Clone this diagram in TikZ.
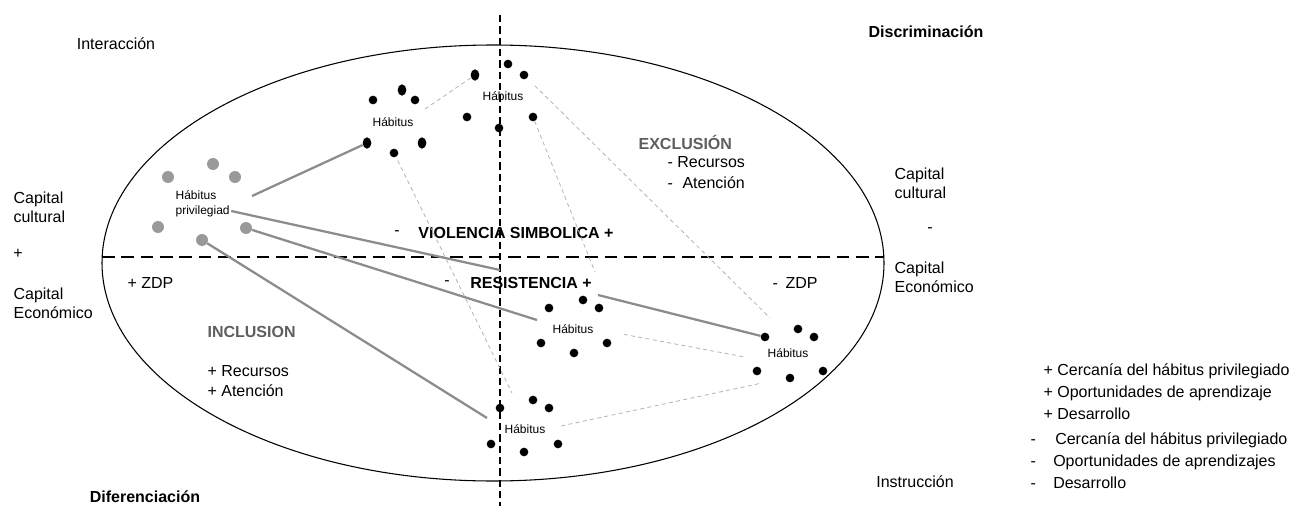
\documentclass[tikz,border=0pt]{standalone}
\usepackage{fontspec}
\setmainfont{Liberation Sans}
\usetikzlibrary{shapes.geometric,positioning}

\begin{document}
\begin{tikzpicture}
		[x=0.75pt,y=-0.75pt,
		 font=\fontsize{12}{14.4}\selectfont,
		 every node/.style={inner sep=1pt},
		 blackdot/.style={circle,fill=black,inner sep=0pt,minimum size=6.5pt},
		 talldot/.style={ellipse,fill=black,inner sep=0pt,minimum width=6.5pt,minimum height=8.5pt},
		 privdot/.style={circle,fill=black!40,inner sep=0pt,minimum size=9pt},
		 habit/.style={font=\fontsize{9}{10.5}\selectfont},
		 titlelabel/.style={font=\fontsize{12}{14.4}\selectfont\bfseries},
		 zonelabel/.style={font=\fontsize{12}{14.4}\selectfont\bfseries,text=black!63},
		 strongline/.style={draw=black!45,line width=1.7pt},
		 weakline/.style={draw=black!30,line width=0.6pt,dash pattern=on 3pt off 2.5pt},
		 axisline/.style={line width=2pt,dash pattern=on 9.5pt off 5pt}]

		\useasboundingbox (0,0) rectangle (1299,506);

		\draw[line width=0.8pt] (493,263) ellipse [x radius=293.25pt, y radius=163.5pt];
		\draw[axisline] (102,257) -- (884,257);
		\draw[line width=0.8pt,dash pattern=on 5.5pt off 3pt] (500,15) -- (500,506);

		\node (interaccion) at (116,44) {Interacción};
		\node[titlelabel] (discriminacion) at (926,32) {Discriminación};
		\node[titlelabel] (diferenciacion) at (145,497) {Diferenciación};
		\node (instruccion) at (915,482) {Instrucción};

		\node[anchor=west,align=left] (culturalL) at (12,207) {Capital\\cultural};
		\node (plusL) at (18,254) {+};
		\node[anchor=west,align=left] (economicoL) at (12,303) {Capital\\Económico};
		\node[anchor=west,align=left] (culturalR) at (893,183) {Capital\\cultural};
		\node (minusR) at (930,230) {-};
		\node[anchor=west,align=left] (economicoR) at (893,277) {Capital\\Económico};

		\node[anchor=west] (zdpPlus) at (126,283) {+ ZDP};
		\node[anchor=west] (zdpMinus) at (771,283) {-\hspace{0.48em}ZDP};

		\node[zonelabel,anchor=west] (inclusion) at (206,332) {INCLUSION};
		\node[anchor=west] (inclRecursos) at (206,371) {+ Recursos};
		\node[anchor=west] (inclAtencion) at (206,391) {+ Atención};

		\node[zonelabel,anchor=west] (exclusion) at (637,142) {EXCLUSIÓN};
		\node[anchor=west] (exclRecursos) at (666,162) {- Recursos};
		\node[anchor=west] (exclAtencion) at (666,183) {-\hspace{0.6em}Atención};

		\node (violMinus) at (397,233) {-};
		\node[titlelabel] (violencia) at (516,233) {VIOLENCIA SIMBOLICA +};
		\node (resMinus) at (447,283) {-};
		\node[titlelabel] (resistencia) at (531,283) {RESISTENCIA +};

		\node[anchor=west] (legPlusA) at (1042,371) {+ Cercanía del hábitus privilegiado};
		\node[anchor=west] (legPlusB) at (1042,393) {+ Oportunidades de aprendizaje};
		\node[anchor=west] (legPlusC) at (1042,414) {+ Desarrollo};
		\node[anchor=west] (legMinusA) at (1029,440) {\makebox[18.5pt][l]{-}Cercanía del hábitus privilegiado};
		\node[anchor=west] (legMinusB) at (1029,462) {\makebox[17pt][l]{-}Oportunidades de aprendizajes};
		\node[anchor=west] (legMinusC) at (1029,483) {\makebox[17pt][l]{-}Desarrollo};

		% privileged habitus
		\node[habit,anchor=west] (privA) at (174,195) {Hábitus};
		\node[habit,anchor=west] (privB) at (174,211) {privilegiad};
		\node[privdot] (p1) at (168,177) {};
		\node[privdot] (p2) at (213,164) {};
		\node[privdot] (p3) at (235,177) {};
		\node[privdot] (p4) at (158,227) {};
		\node[privdot] (p5) at (202,240) {};
		\node[privdot] (p6) at (246,228) {};

		% habitus A
		\node[habit] (habA) at (503,96) {Hábitus};
		\node[blackdot] (a1) at (508,64) {};
		\node[talldot] (a2) at (475,75) {};
		\node[blackdot] (a3) at (524,75) {};
		\node[blackdot] (a4) at (467,117) {};
		\node[blackdot] (a5) at (499,128) {};
		\node[blackdot] (a6) at (533,117) {};

		% habitus B
		\node[habit] (habB) at (393,122) {Hábitus};
		\node[blackdot] (b1) at (373,100) {};
		\node[talldot] (b2) at (402,90) {};
		\node[blackdot] (b3) at (415,100) {};
		\node[talldot] (b4) at (367,143) {};
		\node[blackdot] (b5) at (394,153) {};
		\node[talldot] (b6) at (422,143) {};

		% habitus C
		\node[habit] (habC) at (573,329) {Hábitus};
		\node[blackdot] (c1) at (583,300) {};
		\node[blackdot] (c2) at (549,308) {};
		\node[blackdot] (c3) at (599,308) {};
		\node[blackdot] (c4) at (541,343) {};
		\node[blackdot] (c5) at (574,353) {};
		\node[blackdot] (c6) at (607,343) {};

		% habitus D
		\node[habit] (habD) at (788,353) {Hábitus};
		\node[blackdot] (d1) at (765,337) {};
		\node[blackdot] (d2) at (798,329) {};
		\node[blackdot] (d3) at (814,337) {};
		\node[blackdot] (d4) at (757,371) {};
		\node[blackdot] (d5) at (790,378) {};
		\node[blackdot] (d6) at (823,371) {};

		% habitus E
		\node[habit] (habE) at (525,429) {Hábitus};
		\node[blackdot] (e1) at (533,400) {};
		\node[blackdot] (e2) at (500,408) {};
		\node[blackdot] (e3) at (549,408) {};
		\node[blackdot] (e4) at (491,444) {};
		\node[blackdot] (e5) at (524,452) {};
		\node[blackdot] (e6) at (558,444) {};

		% free ends
		\coordinate (g1start) at (252,196);
		\coordinate (g2end) at (500,270);
		\coordinate (g3end) at (537,320);
		\coordinate (g4end) at (487,418);
		\coordinate (g5start) at (598,295);
		\coordinate (t1start) at (425,109);
		\coordinate (t2end) at (512,393);
		\coordinate (t3end) at (595,272);
		\coordinate (t4end) at (770,318);
		\coordinate (t5end) at (745,357);
		\coordinate (t6end) at (762,383);

		\draw[strongline] (g1start) -- (b4);
		\draw[strongline] (privB.east) -- (g2end);
		\draw[strongline] (p6) -- (g3end);
		\draw[strongline] (p5) -- (g4end);
		\draw[strongline] (g5start) -- (d1);

		\draw[weakline] (t1start) -- (a2);
		\draw[weakline,shorten <=3pt] (b5) -- (t2end);
		\draw[weakline] (a6) -- (t3end);
		\draw[weakline,shorten <=8pt] (a3) -- (t4end);
		\draw[weakline,shorten <=22pt] (habC.east) -- (t5end);
		\draw[weakline,shorten <=11pt] (habE.east) -- (t6end);
	\end{tikzpicture}
\end{document}
